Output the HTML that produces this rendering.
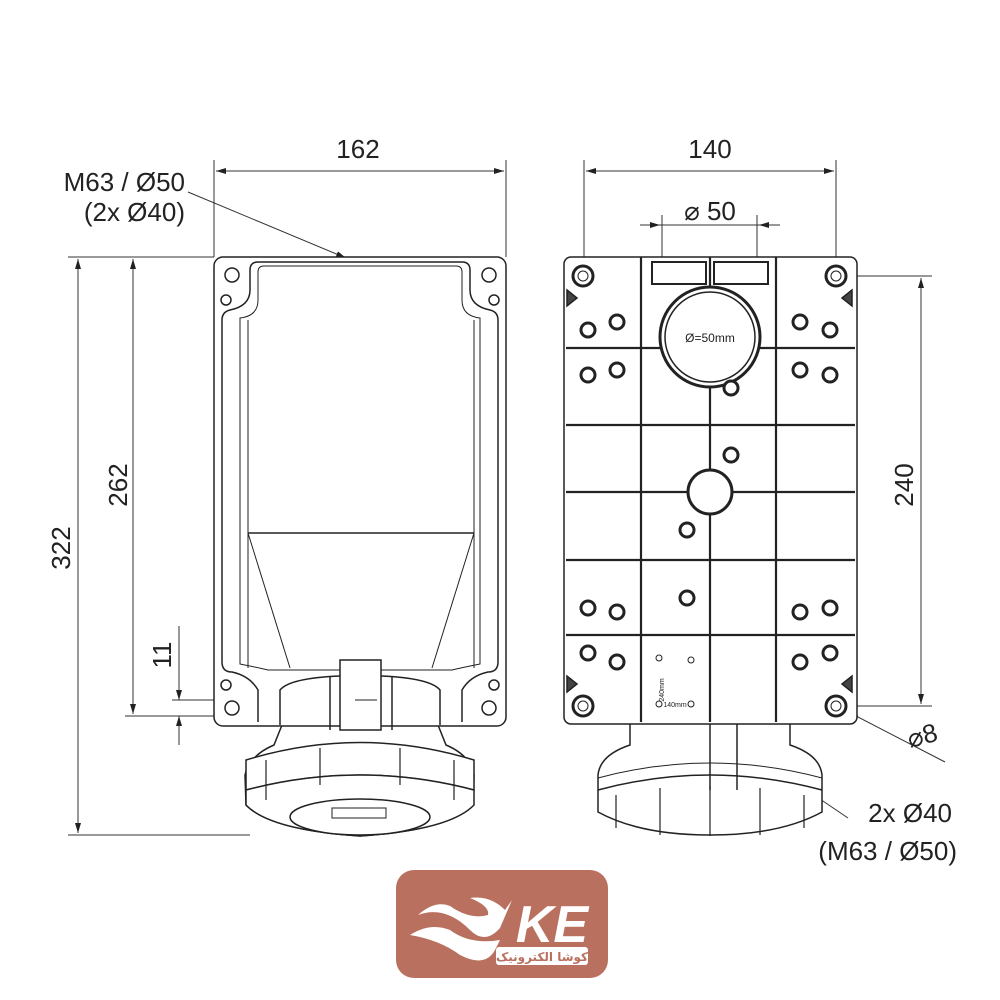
<!DOCTYPE html>
<html><head><meta charset="utf-8"><style>
html,body{margin:0;padding:0;background:#fff}
svg{display:block}
text{font-family:"Liberation Sans",sans-serif;fill:#222}
</style></head><body>
<svg width="1000" height="1000" viewBox="0 0 1000 1000" xmlns="http://www.w3.org/2000/svg">
<defs>
<marker id="a" viewBox="0 0 10 6" refX="10" refY="3" markerWidth="10" markerHeight="6" orient="auto-start-reverse" markerUnits="userSpaceOnUse"><path d="M0,0L10,3L0,6z" fill="#222"/></marker>
</defs>
<g stroke="#333" stroke-width="1" fill="none">
<line x1="214" y1="160" x2="214" y2="257"/><line x1="506" y1="160" x2="506" y2="257"/>
<line x1="216" y1="171" x2="504" y2="171" marker-start="url(#a)" marker-end="url(#a)"/>
<line x1="188" y1="192" x2="346" y2="258" marker-end="url(#a)"/>
<line x1="68" y1="257" x2="214" y2="257"/><line x1="68" y1="835" x2="250" y2="835"/>
<line x1="78" y1="259" x2="78" y2="833" marker-start="url(#a)" marker-end="url(#a)"/>
<line x1="125" y1="716" x2="218" y2="716"/><line x1="172" y1="700" x2="218" y2="700"/>
<line x1="133" y1="259" x2="133" y2="714" marker-start="url(#a)" marker-end="url(#a)"/>
<line x1="179" y1="626" x2="179" y2="700" marker-end="url(#a)"/>
<line x1="179" y1="745" x2="179" y2="716" marker-end="url(#a)"/>
<line x1="584" y1="160" x2="584" y2="275"/><line x1="836" y1="160" x2="836" y2="275"/>
<line x1="586" y1="171" x2="834" y2="171" marker-start="url(#a)" marker-end="url(#a)"/>
<line x1="662" y1="215" x2="662" y2="345"/><line x1="757" y1="215" x2="757" y2="345"/>
<line x1="640" y1="225" x2="660" y2="225" marker-end="url(#a)"/>
<line x1="780" y1="225" x2="759" y2="225" marker-end="url(#a)"/>
<line x1="660" y1="225" x2="760" y2="225"/>
<line x1="845" y1="276" x2="932" y2="276"/><line x1="845" y1="706" x2="932" y2="706"/>
<line x1="921" y1="278" x2="921" y2="704" marker-start="url(#a)" marker-end="url(#a)"/>
<line x1="800" y1="687" x2="945" y2="762"/>
<line x1="812" y1="693" x2="826" y2="701" marker-end="url(#a)"/>
<line x1="858" y1="716" x2="844" y2="710" marker-end="url(#a)"/>
<line x1="848" y1="818" x2="718" y2="730" marker-end="url(#a)"/>
</g>
<g font-size="26">
<text x="358" y="158" text-anchor="middle">162</text>
<text x="185" y="191" text-anchor="end">M63 / Ø50</text>
<text x="185" y="221" text-anchor="end">(2x Ø40)</text>
<text x="710" y="158" text-anchor="middle">140</text>
<text x="710" y="220" text-anchor="middle">⌀ 50</text>
<text transform="translate(70,548) rotate(-90)" text-anchor="middle">322</text>
<text transform="translate(127,485) rotate(-90)" text-anchor="middle">262</text>
<text transform="translate(171,655) rotate(-90)" text-anchor="middle">11</text>
<text transform="translate(913,485) rotate(-90)" text-anchor="middle">240</text>
<text transform="translate(910,748) rotate(-15)">⌀8</text>
<text x="952" y="822" text-anchor="end">2x Ø40</text>
<text x="957" y="860" text-anchor="end">(M63 / Ø50)</text>
</g>
<!-- LEFT DEVICE -->
<g stroke="#222" stroke-width="1.5" fill="#fff">
<path d="M282,725 L274,745 Q250,755 245,775 L246,805 Q270,830 360,836 Q450,830 473,805 L474,775 Q470,755 446,745 L438,725 Z"/>
<rect x="214" y="257" width="292" height="469" rx="9"/>
<path d="M250,270 Q250,262 258,262 H462 Q470,262 470,270 V290 Q470,306 490,310 Q498,312 498,320 V662 Q498,672 488,672 Q470,676 462,690 L462,722 M250,270 V290 Q250,306 230,310 Q222,312 222,320 V662 Q222,672 232,672 Q250,676 258,690 L258,722" fill="none"/>
<path d="M258,272 Q258,266 264,266 H456 Q462,266 462,272 V300 Q462,316 480,318 V664 Q460,668 452,670 H268 Q260,668 240,664 V318 Q258,316 258,300 Z" fill="none" stroke-width="1"/>
<line x1="248" y1="533" x2="474" y2="533"/>
<line x1="248" y1="320" x2="248" y2="668" stroke-width="1"/><line x1="474" y1="320" x2="474" y2="668" stroke-width="1"/>
<line x1="248" y1="533" x2="290" y2="668" stroke-width="1"/><line x1="474" y1="533" x2="432" y2="668" stroke-width="1"/>
<path d="M280,725 V690 Q290,678 340,676 H380 Q430,678 440,690 V725" fill="#fff"/>
<rect x="340" y="660" width="41" height="70" fill="#fff"/>
<line x1="330" y1="676" x2="330" y2="730"/><line x1="392" y1="676" x2="392" y2="730"/>
<line x1="355" y1="700" x2="377" y2="700" stroke-width="1"/>
<circle cx="232" cy="275" r="7"/><circle cx="489" cy="275" r="7"/>
<circle cx="232" cy="708" r="7"/><circle cx="489" cy="708" r="7"/>
<circle cx="226" cy="300" r="5"/><circle cx="494" cy="300" r="5"/>
<circle cx="226" cy="685" r="5"/><circle cx="494" cy="685" r="5"/>
<path d="M246,760 Q360,725 474,760 L474,790 Q360,760 246,790 Z" fill="#fff"/>
<path d="M246,790 Q360,760 474,790 L474,805 Q450,830 360,836 Q270,830 246,805 Z" fill="#fff"/>
<ellipse cx="360" cy="817" rx="70" ry="18"/>
<rect x="332" y="808" width="54" height="10" stroke-width="1"/>
<g stroke-width="1.2" fill="none"><line x1="266" y1="760" x2="266" y2="800"/><line x1="320" y1="748" x2="320" y2="785"/><line x1="400" y1="748" x2="400" y2="785"/><line x1="454" y1="760" x2="454" y2="800"/></g>
</g>
<!-- RIGHT DEVICE -->
<g stroke="#222" stroke-width="1.5" fill="#fff">
<path d="M630,722 V745 Q600,755 598,775 V812 Q640,835 710,835 Q780,835 822,812 V775 Q820,755 790,745 V722 Z"/>
<path d="M598,790 Q710,760 822,790" fill="none"/>
<path d="M598,778 Q710,748 822,778" fill="none" stroke-width="1"/>
<g stroke-width="1.2"><line x1="616" y1="795" x2="616" y2="828"/><line x1="660" y1="788" x2="660" y2="835"/><line x1="710" y1="786" x2="710" y2="836"/><line x1="760" y1="788" x2="760" y2="835"/><line x1="804" y1="795" x2="804" y2="828"/></g>
<line x1="710" y1="722" x2="710" y2="790"/><line x1="737" y1="722" x2="737" y2="790"/>
<rect x="564" y="257" width="293" height="467" rx="7"/>
<g stroke-width="2.2" fill="none">
<line x1="641" y1="257" x2="641" y2="722"/><line x1="710" y1="257" x2="710" y2="722"/><line x1="776" y1="257" x2="776" y2="722"/>
<line x1="566" y1="348" x2="855" y2="348"/><line x1="566" y1="425" x2="855" y2="425"/><line x1="566" y1="492" x2="855" y2="492"/><line x1="566" y1="560" x2="855" y2="560"/><line x1="566" y1="635" x2="855" y2="635"/>
</g>
<rect x="652" y="262" width="54" height="22" stroke-width="2"/><rect x="714" y="262" width="54" height="22" stroke-width="2"/>
<circle cx="710" cy="337" r="50" stroke-width="3"/><circle cx="710" cy="337" r="45"/>
<circle cx="710" cy="492" r="22" stroke-width="3"/>
<g stroke-width="3">
<circle cx="583" cy="276" r="10"/><circle cx="836" cy="276" r="10"/><circle cx="583" cy="706" r="10"/><circle cx="836" cy="706" r="10"/>
<circle cx="588" cy="330" r="7"/><circle cx="617" cy="322" r="7"/><circle cx="800" cy="322" r="7"/><circle cx="830" cy="330" r="7"/>
<circle cx="588" cy="375" r="7"/><circle cx="617" cy="370" r="7"/><circle cx="800" cy="370" r="7"/><circle cx="830" cy="375" r="7"/>
<circle cx="731" cy="388" r="7"/><circle cx="731" cy="455" r="7"/><circle cx="687" cy="530" r="7"/><circle cx="687" cy="598" r="7"/>
<circle cx="588" cy="608" r="7"/><circle cx="617" cy="612" r="7"/><circle cx="800" cy="612" r="7"/><circle cx="830" cy="608" r="7"/>
<circle cx="588" cy="653" r="7"/><circle cx="617" cy="662" r="7"/><circle cx="800" cy="662" r="7"/><circle cx="830" cy="653" r="7"/>
</g>
<circle cx="583" cy="276" r="5" stroke-width="1"/><circle cx="836" cy="276" r="5" stroke-width="1"/><circle cx="583" cy="706" r="5" stroke-width="1"/><circle cx="836" cy="706" r="5" stroke-width="1"/>
<path d="M567,290 L577,298 L567,306Z M852,290 L842,298 L852,306Z M567,692 L577,684 L567,676Z M852,692 L842,684 L852,676Z" fill="#444"/>
<circle cx="659" cy="658" r="3" stroke-width="1"/><circle cx="691" cy="660" r="3" stroke-width="1"/><circle cx="659" cy="704" r="3" stroke-width="1"/><circle cx="691" cy="704" r="3" stroke-width="1"/>
</g>
<text x="710" y="342" font-size="12" text-anchor="middle">Ø=50mm</text>
<text transform="translate(664,690) rotate(-90)" font-size="7" text-anchor="middle">240mm</text>
<text x="675" y="707" font-size="7" text-anchor="middle">140mm</text>
<!-- LOGO -->
<rect x="396" y="870" width="212" height="108" rx="18" fill="#b9705f"/>
<path d="M418,915 Q445,905 470,930 Q485,945 500,928 L512,900 L505,910 Q490,895 470,898 Q490,906 488,915 Q470,920 450,906 Q435,900 418,915Z" fill="#fff"/>
<path d="M410,935 Q440,940 460,955 Q485,968 495,950 L500,940 Q470,945 450,930 Q430,922 410,935Z" fill="#fff"/>
<text x="552" y="942" font-size="52" font-weight="bold" font-style="italic" style="fill:#fff" text-anchor="middle">KE</text>
<rect x="496" y="947" width="92" height="18" rx="3" fill="#fff"/>
<text x="542" y="961" font-size="12" font-weight="bold" text-anchor="middle" style="fill:#b9705f;font-family:'DejaVu Sans',sans-serif">کوشا الکترونیک</text>
</svg>
</body></html>
